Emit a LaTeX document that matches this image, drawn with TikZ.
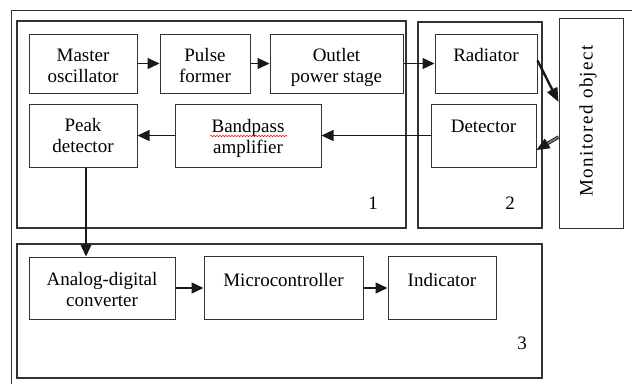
\documentclass[tikz,border=0pt]{standalone}
\usepackage{fontspec}
\setmainfont{Liberation Serif}
\usetikzlibrary{arrows.meta}
\usetikzlibrary{decorations.pathmorphing}

\tikzset{
  blk/.style={draw=black!80, line width=1pt, align=center, inner sep=0pt,
              font=\fontsize{19}{21}\selectfont},
  oneline/.style={text height=13pt, text depth=17pt},
  twoline/.style={text height=41pt, text depth=4pt},
  grp/.style={draw=black!80, line width=1.2pt},
  lnk/.style={>={Triangle[length=12pt,width=11pt]}, ->, black!90, line width=1.3pt},
  num/.style={font=\fontsize{19}{21}\selectfont},
  spell/.style={red, line width=0.5pt, decorate,
                decoration={snake, amplitude=0.7pt, segment length=3pt}},
}

\begin{document}
\begin{tikzpicture}[x=1pt, y=-1pt]
\useasboundingbox (0,0) rectangle (632,384);
% page frame
\draw[black!80, line width=1pt] (632,10) -- (11,10) -- (11,384);
% groups
\draw[grp] (17,21) rectangle (406,228);
\draw[grp] (418,22) rectangle (542,228);
\draw[grp] (17,244) rectangle (542,378);
\node[num] (n1) at (373,203) {1};
\node[num] (n2) at (510,203) {2};
\node[num] (n3) at (522,343) {3};

% block 1
\node[blk, twoline, minimum width=108pt, minimum height=59pt] (mo)  at (83,63.5)    {Master\\oscillator};
\node[blk, twoline, minimum width=90pt,  minimum height=59pt] (pf)  at (205,63.5)   {Pulse\\former};
\node[blk, twoline, minimum width=133pt, minimum height=59pt] (ops) at (336.5,63.5) {Outlet\\power stage};
\node[blk, twoline, minimum width=108pt, minimum height=63pt, text height=38pt] (pd) at (83,135.5) {Peak\\detector};
\node[blk, twoline, minimum width=146pt, minimum height=63pt, text height=40pt] (bpa) at (248,135.5) {Bandpass\\amplifier};
\draw[spell] ([shift={(-38pt,-0.5pt)}]bpa.center) -- ([shift={(39pt,-0.5pt)}]bpa.center);

% block 2
\node[blk, oneline, minimum width=102pt, minimum height=59pt] (rad) at (486,63.5)    {Radiator};
\node[blk, oneline, minimum width=105pt, minimum height=63pt, text depth=20pt] (det) at (483.5,135.5) {Detector};

% object
\node[blk, minimum width=64pt, minimum height=210pt] (obj) at (591,123) {};
\node[num, rotate=90, font=\fontsize{19}{21}\selectfont\addfontfeature{LetterSpace=7.5}] (objtxt) at (588,121) {Monitored object};

% block 3
\node[blk, twoline, minimum width=146pt, minimum height=62pt, text height=40pt] (adc) at (102,288) {Analog-digital\\converter};
\node[blk, oneline, minimum width=159pt, minimum height=63pt] (mc)  at (283.5,288) {Microcontroller};
\node[blk, oneline, minimum width=108pt, minimum height=63pt] (ind) at (442,288)   {Indicator};

% signal path
\foreach \a/\b in {mo/pf, pf/ops, ops/rad, det/bpa, bpa/pd, adc/mc, mc/ind}
  \draw[lnk] (\a) -- (\b);
\draw[lnk] ([xshift=3pt]pd.south) -- ([xshift=3pt]pd.south |- adc.north);
\draw[lnk, >={Triangle[length=14pt,width=11pt]}, line width=2.4pt] ([yshift=3pt]rad.east) -- ([yshift=21pt]obj.west);
\draw[lnk, >={Triangle[length=13pt,width=11pt]}, double=black!45, double distance=1.4pt, line width=1pt] ([yshift=-14pt]obj.west) -- ([yshift=-14.5pt]det.east);
\end{tikzpicture}
\end{document}
